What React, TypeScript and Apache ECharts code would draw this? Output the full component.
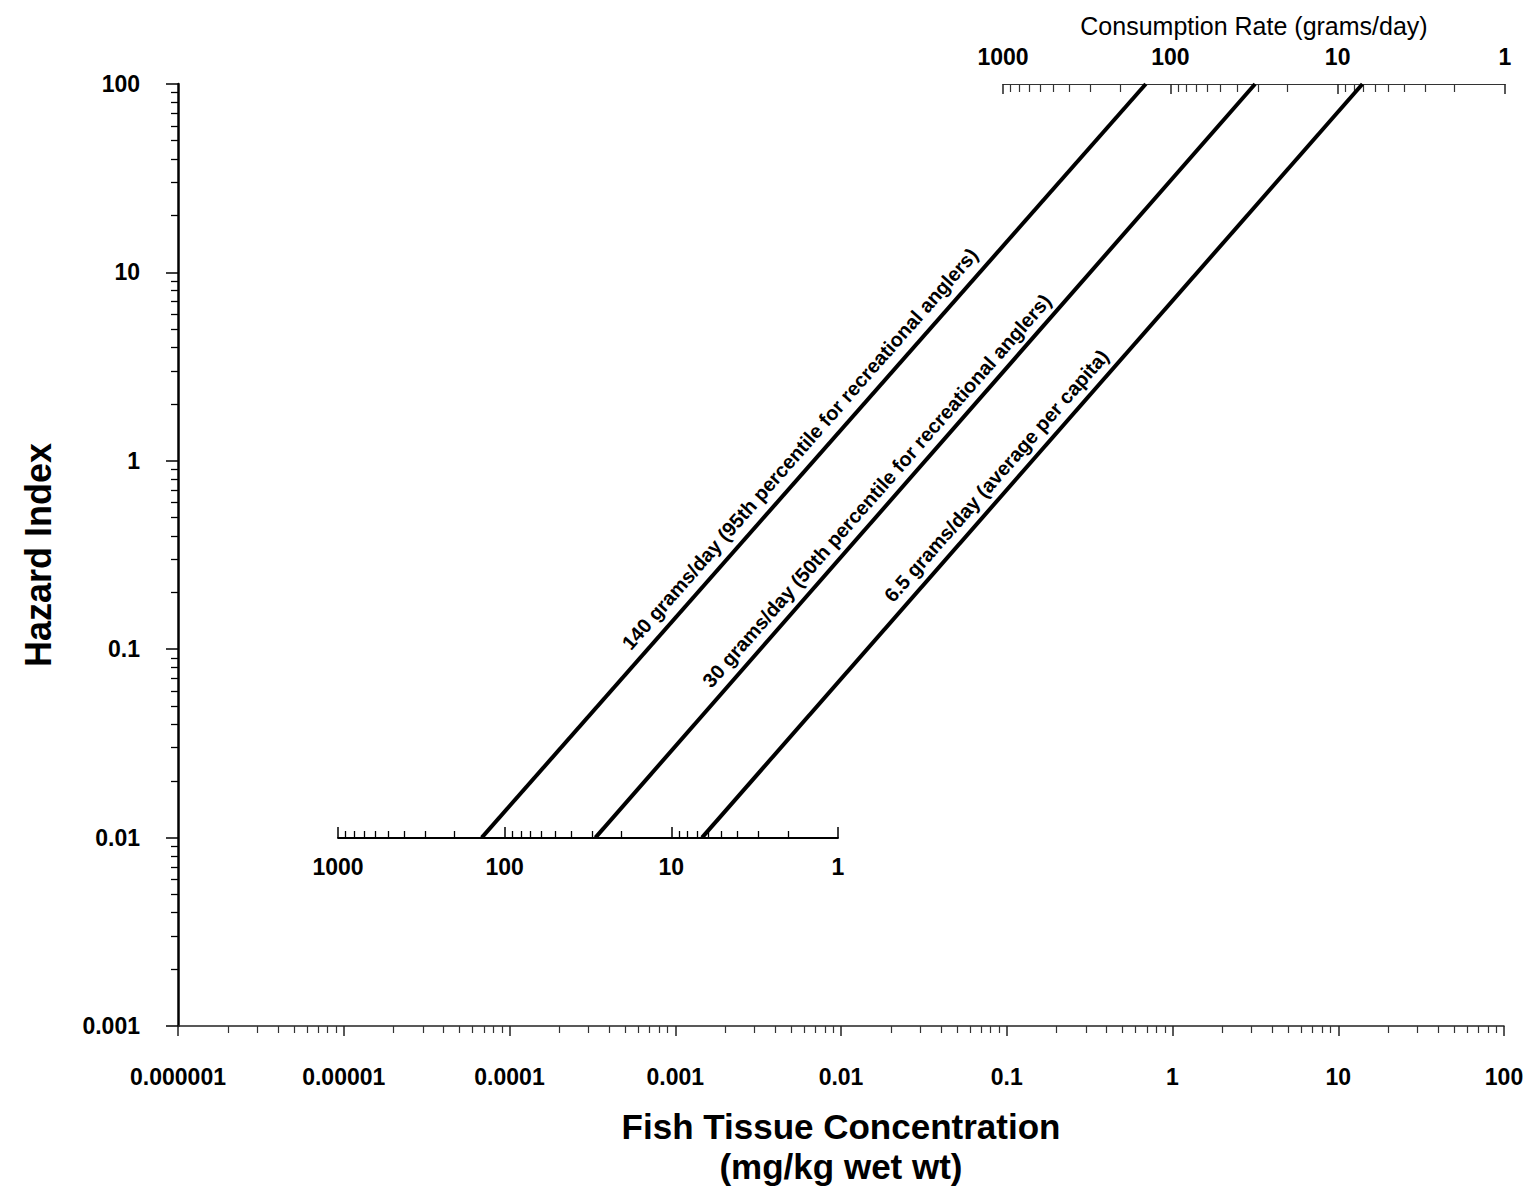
import { useEffect, useRef } from "react";
import * as echarts from "echarts";

// ---- tick labels ----
const xTickLabels = ["0.000001", "0.00001", "0.0001", "0.001", "0.01", "0.1", "1", "10", "100"];
const yTickLabels = ["0.001", "0.01", "0.1", "1", "10", "100"];
const rateTickLabels = ["1", "10", "100", "1000"];

// ---- series (fish tissue concentration [mg/kg], hazard index) ----
const seriesNames = [
  "140 grams/day (95th percentile for recreational anglers)",
  "30 grams/day (50th percentile for recreational anglers)",
  "6.5 grams/day (average per capita)",
];
const line140 = [
  [0.000068, 0.01],
  [0.69, 100],
];
const line30 = [
  [0.00033, 0.01],
  [3.15, 100],
];
const line65 = [
  [0.00145, 0.01],
  [14.0, 100],
];
// hazard index at which each line's label is centred
const labelCenterHI = [1.0, 0.6, 0.72];

const FONT = "'Liberation Sans', Arial, Helvetica, sans-serif";

function minorLogTicks(lo: number, hi: number): number[] {
  const out: number[] = [];
  for (let e = lo; e < hi; e++) for (let k = 2; k <= 9; k++) out.push(e + Math.log10(k));
  return out;
}

function decadeFormatter(labels: string[], minExp: number) {
  return (v: number) => {
    const i = Math.round(Math.log10(v)) - minExp;
    return labels[i] ?? "";
  };
}

const tickLabelStyle = { fontSize: 23, fontWeight: "bold" as const, color: "#000", fontFamily: FONT };

function buildOption() {
  const lines = [line140, line30, line65];
  const series = lines.map((d, i) => {
    const [x0, y0] = d[0];
    const c = labelCenterHI[i];
    const lo = c / 10;
    const hi = c * 10;
    return {
      type: "line",
      name: seriesNames[i],
      xAxisIndex: 0,
      yAxisIndex: 0,
      data: d,
      showSymbol: false,
      symbol: "none",
      lineStyle: { color: "#000", width: 4 },
      silent: true,
      markLine: {
        silent: true,
        symbol: "none",
        lineStyle: { color: "rgba(0,0,0,0)", width: 1, opacity: 1 },
        label: {
          show: true,
          position: "insideMiddleTop",
          formatter: seriesNames[i],
          distance: 8,
          fontSize: 20,
          fontWeight: "bold",
          color: "#000",
          opacity: 1,
          fontFamily: FONT,
        },
        data: [
          [
            { coord: [(x0 * lo) / y0, lo] },
            { coord: [(x0 * hi) / y0, hi] },
          ],
        ],
      },
    };
  });

  const noLine = { show: false, onZero: false };

  return {
    animation: false,
    backgroundColor: "#fff",
    textStyle: { fontFamily: FONT },
    grid: [
      { left: 178, top: 84, width: 1326, height: 942, outerBoundsMode: "none" },
      { left: 1003, top: 84, width: 502, height: 10, outerBoundsMode: "none" },
      { left: 338, top: 828, width: 500, height: 10, outerBoundsMode: "none" },
    ],
    xAxis: [
      {
        type: "log",
        gridIndex: 0,
        position: "bottom",
        min: 0.000001,
        max: 100,
        logBase: 10,
        axisLine: { show: true, onZero: false, lineStyle: { color: "#222", width: 1.5 } },
        axisTick: { show: true, length: 10, lineStyle: { color: "#222", width: 1.5 } },
        axisLabel: { ...tickLabelStyle, margin: 39, formatter: decadeFormatter(xTickLabels, -6) },
        splitLine: { show: false },
        name: "Fish Tissue Concentration\n(mg/kg wet wt)",
        nameLocation: "middle",
        nameGap: 80,
        nameTextStyle: { fontSize: 35, fontWeight: "bold", color: "#000", lineHeight: 40, fontFamily: FONT },
      },
      {
        type: "value",
        gridIndex: 0,
        position: "bottom",
        min: -6,
        max: 2,
        axisLine: noLine,
        axisLabel: { show: false },
        splitLine: { show: false },
        axisTick: { show: true, length: 7, customValues: minorLogTicks(-6, 2), lineStyle: { color: "#333", width: 1.2 } },
      },
      {
        type: "log",
        gridIndex: 1,
        position: "top",
        inverse: true,
        min: 1,
        max: 1000,
        logBase: 10,
        axisLine: { show: true, onZero: false, lineStyle: { color: "#333", width: 1 } },
        axisTick: { show: true, inside: true, length: 10, lineStyle: { color: "#222", width: 1.5 } },
        axisLabel: { ...tickLabelStyle, margin: 16, formatter: decadeFormatter(rateTickLabels, 0) },
        splitLine: { show: false },
        name: "Consumption Rate (grams/day)",
        nameLocation: "middle",
        nameGap: 46,
        nameTextStyle: { fontSize: 25, fontWeight: "normal", color: "#000", fontFamily: FONT },
      },
      {
        type: "value",
        gridIndex: 1,
        position: "top",
        inverse: true,
        min: 0,
        max: 3,
        axisLine: noLine,
        axisLabel: { show: false },
        splitLine: { show: false },
        axisTick: { show: true, inside: true, length: 8, customValues: minorLogTicks(0, 3), lineStyle: { color: "#333", width: 1.2 } },
      },
      {
        type: "log",
        gridIndex: 2,
        position: "bottom",
        inverse: true,
        min: 1,
        max: 1000,
        logBase: 10,
        axisLine: { show: true, onZero: false, lineStyle: { color: "#000", width: 1.8 } },
        axisTick: { show: true, inside: true, length: 11, lineStyle: { color: "#000", width: 1.5 } },
        axisLabel: { ...tickLabelStyle, margin: 17, formatter: decadeFormatter(rateTickLabels, 0) },
        splitLine: { show: false },
      },
      {
        type: "value",
        gridIndex: 2,
        position: "bottom",
        inverse: true,
        min: 0,
        max: 3,
        axisLine: noLine,
        axisLabel: { show: false },
        splitLine: { show: false },
        axisTick: { show: true, inside: true, length: 7, customValues: minorLogTicks(0, 3), lineStyle: { color: "#000", width: 1.3 } },
      },
    ],
    yAxis: [
      {
        type: "log",
        gridIndex: 0,
        position: "left",
        min: 0.001,
        max: 100,
        logBase: 10,
        axisLine: { show: true, onZero: false, lineStyle: { color: "#000", width: 2.5 } },
        axisTick: { show: true, length: 12, lineStyle: { color: "#000", width: 1.5 } },
        axisLabel: { ...tickLabelStyle, margin: 38, formatter: decadeFormatter(yTickLabels, -3) },
        splitLine: { show: false },
        name: "Hazard Index",
        nameLocation: "middle",
        nameGap: 122,
        nameTextStyle: { fontSize: 36, fontWeight: "bold", color: "#000", fontFamily: FONT },
      },
      {
        type: "value",
        gridIndex: 0,
        position: "left",
        min: -3,
        max: 2,
        axisLine: noLine,
        axisLabel: { show: false },
        splitLine: { show: false },
        axisTick: { show: true, length: 7, customValues: minorLogTicks(-3, 2), lineStyle: { color: "#000", width: 1.3 } },
      },
      { type: "value", gridIndex: 1, show: false, min: 0, max: 1, axisLine: noLine },
      { type: "value", gridIndex: 2, show: false, min: 0, max: 1, axisLine: noLine },
    ],
    series,
  };
}

export default function App() {
  const ref = useRef<HTMLDivElement>(null);
  useEffect(() => {
    document.body.style.margin = "0";
    const chart = echarts.init(ref.current!, null, { renderer: "svg" });
    chart.setOption(buildOption() as any);
    return () => chart.dispose();
  }, []);
  return <div ref={ref} style={{ width: 1530, height: 1191 }} />;
}
